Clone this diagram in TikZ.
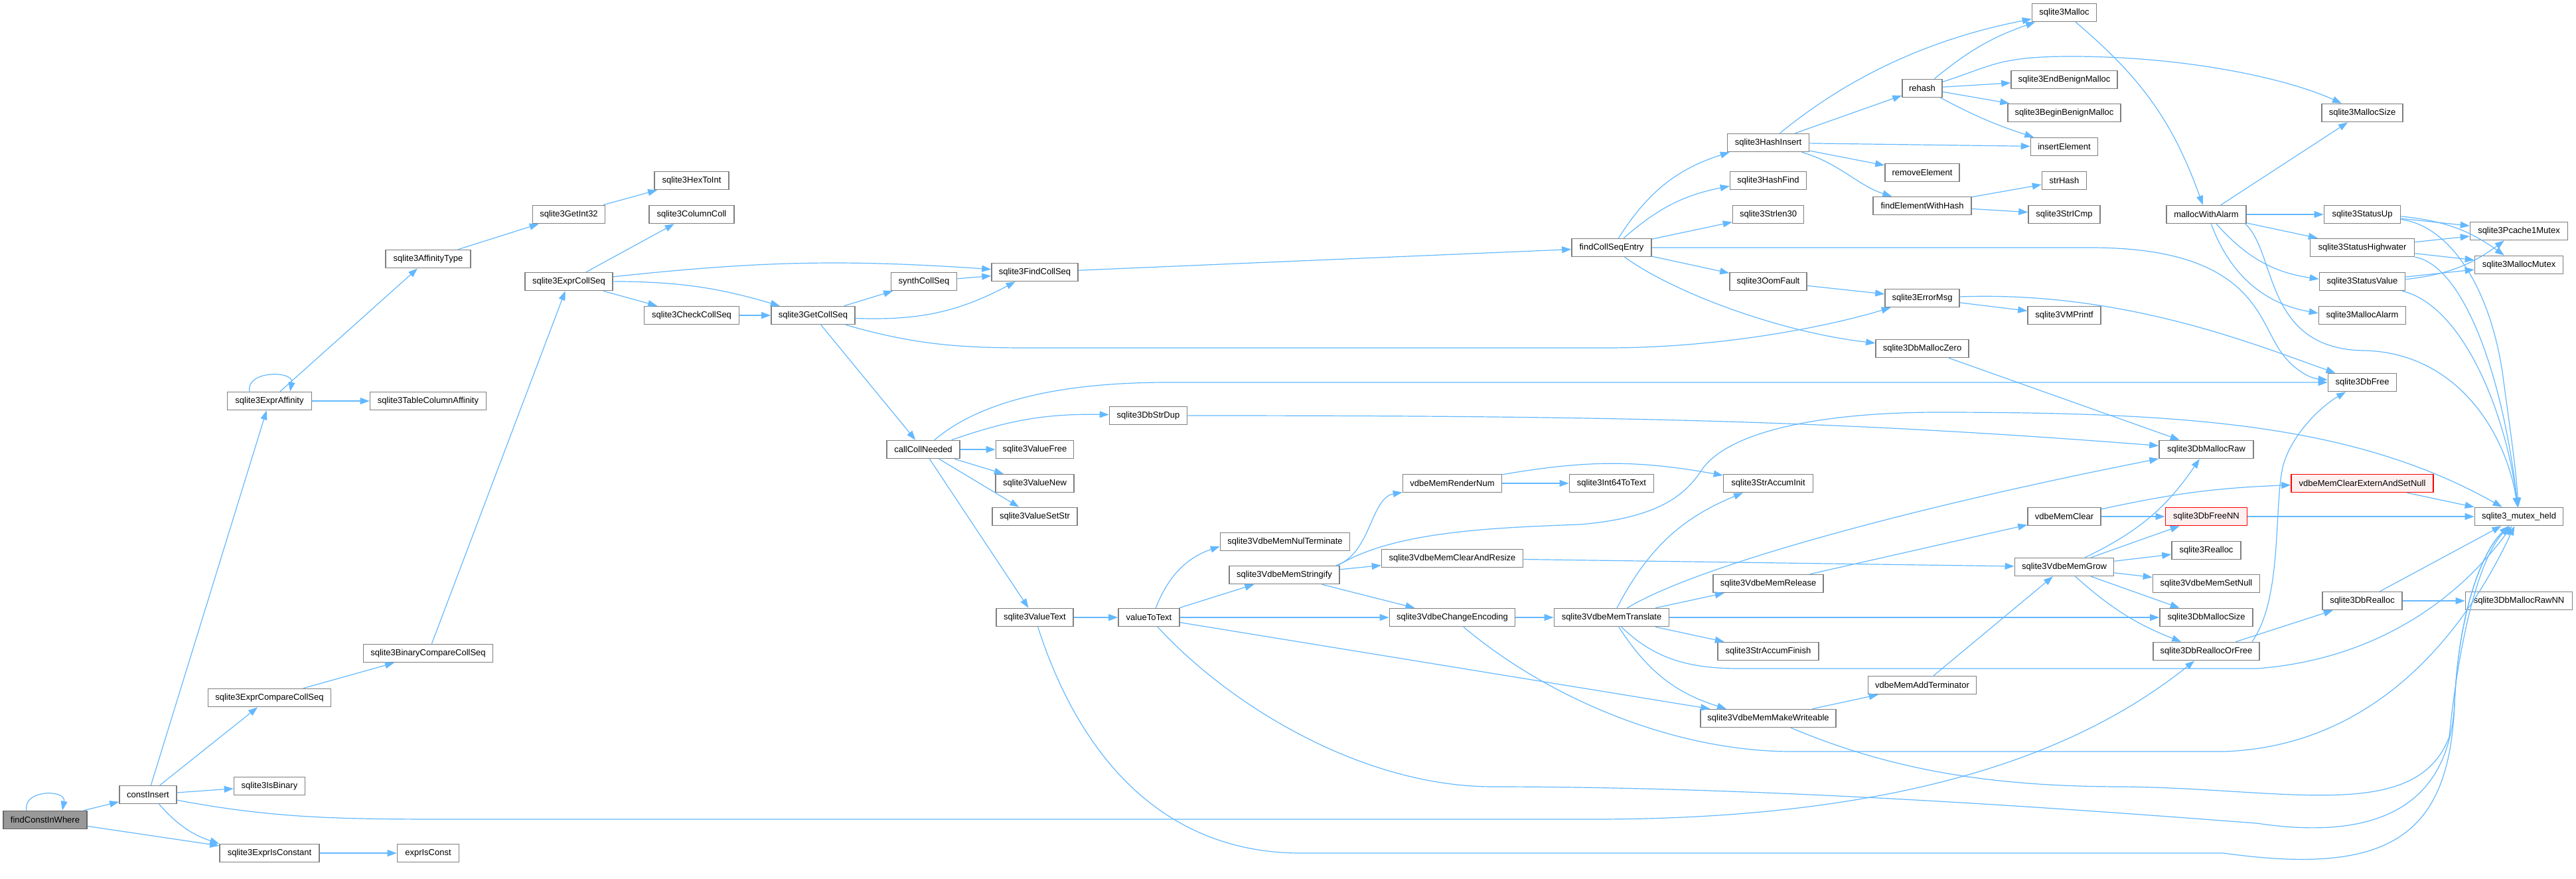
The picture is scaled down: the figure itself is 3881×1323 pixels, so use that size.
\documentclass[tikz,border=0pt]{standalone}
\usepackage{fontspec}
\setmainfont{Liberation Sans}
\usepackage{tikz}
\usetikzlibrary{arrows.meta}
\definecolor{edgeblue}{HTML}{63B8FF}
\definecolor{boxline}{HTML}{7F7F7F}
\definecolor{rootfill}{HTML}{999999}
\definecolor{redline}{HTML}{FF0000}
\definecolor{redfill}{HTML}{FFF0F0}
\tikzstyle{fn} = [rectangle, draw=boxline, line width=1.6pt, fill=white, minimum height=27pt, inner sep=0pt, font=\fontsize{13}{15}\selectfont]
\tikzstyle{rootfn} = [fn, fill=rootfill, draw=boxline!80!black]
\tikzstyle{redfn} = [fn, draw=redline, fill=redfill]
\tikzstyle{call} = [edgeblue, line width=1.2pt, -{Triangle[length=14pt,width=10pt]}]

\begin{document}
\begin{tikzpicture}[x=1pt,y=-1pt]
	\useasboundingbox (0,0) rectangle (3881,1323);
	\node (root) at (68,1235) [rootfn, minimum width=126pt] {findConstInWhere};
	\node (ci) at (223,1197) [fn, minimum width=86pt] {constInsert};
	\node (eaff) at (406,604) [fn, minimum width=127pt] {sqlite3ExprAffinity};
	\node (ecmp) at (406,1051) [fn, minimum width=185pt] {sqlite3ExprCompareCollSeq};
	\node (isbin) at (406,1184) [fn, minimum width=107pt] {sqlite3IsBinary};
	\node (eicon) at (406,1285) [fn, minimum width=150pt] {sqlite3ExprIsConstant};
	\node (afft) at (645,390) [fn, minimum width=128pt] {sqlite3AffinityType};
	\node (tca) at (645,604) [fn, minimum width=175pt] {sqlite3TableColumnAffinity};
	\node (bcmp) at (645,984) [fn, minimum width=195pt] {sqlite3BinaryCompareCollSeq};
	\node (eic) at (645,1285) [fn, minimum width=93pt] {exprIsConst};
	\node (gi32) at (857,323) [fn, minimum width=109pt] {sqlite3GetInt32};
	\node (ecs) at (857,424) [fn, minimum width=132pt] {sqlite3ExprCollSeq};
	\node (hex) at (1042,272) [fn, minimum width=112pt] {sqlite3HexToInt};
	\node (ccoll) at (1042,323) [fn, minimum width=128pt] {sqlite3ColumnColl};
	\node (chk) at (1042,475) [fn, minimum width=143pt] {sqlite3CheckCollSeq};
	\node (gcs) at (1225,475) [fn, minimum width=126pt] {sqlite3GetCollSeq};
	\node (syn) at (1392,424) [fn, minimum width=99pt] {synthCollSeq};
	\node (ccn) at (1391,677) [fn, minimum width=110pt] {callCollNeeded};
	\node (fcs) at (1559,410) [fn, minimum width=130pt] {sqlite3FindCollSeq};
	\node (vfree) at (1559,677) [fn, minimum width=117pt] {sqlite3ValueFree};
	\node (vnew) at (1559,728) [fn, minimum width=118pt] {sqlite3ValueNew};
	\node (vset) at (1559,778) [fn, minimum width=128pt] {sqlite3ValueSetStr};
	\node (vtext) at (1559,930) [fn, minimum width=116pt] {sqlite3ValueText};
	\node (sdup) at (1730,626) [fn, minimum width=117pt] {sqlite3DbStrDup};
	\node (v2t) at (1731,930) [fn, minimum width=92pt] {valueToText};
	\node (nult) at (1936,816) [fn, minimum width=195pt] {sqlite3VdbeMemNulTerminate};
	\node (strfy) at (1935,866) [fn, minimum width=166pt] {sqlite3VdbeMemStringify};
	\node (rnum) at (2188,728) [fn, minimum width=149pt] {vdbeMemRenderNum};
	\node (clrz) at (2188,841) [fn, minimum width=213pt] {sqlite3VdbeMemClearAndResize};
	\node (cenc) at (2188,930) [fn, minimum width=189pt] {sqlite3VdbeChangeEncoding};
	\node (fcse) at (2428,373) [fn, minimum width=120pt] {findCollSeqEntry};
	\node (i64) at (2428,728) [fn, minimum width=127pt] {sqlite3Int64ToText};
	\node (trans) at (2428,930) [fn, minimum width=173pt] {sqlite3VdbeMemTranslate};
	\node (hins) at (2664,215) [fn, minimum width=123pt] {sqlite3HashInsert};
	\node (hfind) at (2664,272) [fn, minimum width=115pt] {sqlite3HashFind};
	\node (slen) at (2664,323) [fn, minimum width=107pt] {sqlite3Strlen30};
	\node (oom) at (2664,424) [fn, minimum width=116pt] {sqlite3OomFault};
	\node (sainit) at (2664,728) [fn, minimum width=135pt] {sqlite3StrAccumInit};
	\node (mrel) at (2664,879) [fn, minimum width=166pt] {sqlite3VdbeMemRelease};
	\node (safin) at (2664,981) [fn, minimum width=152pt] {sqlite3StrAccumFinish};
	\node (mkw) at (2664,1082) [fn, minimum width=204pt] {sqlite3VdbeMemMakeWriteable};
	\node (rehash) at (2896,133) [fn, minimum width=60pt] {rehash};
	\node (rmel) at (2896,260) [fn, minimum width=112pt] {removeElement};
	\node (fewh) at (2896,310) [fn, minimum width=148pt] {findElementWithHash};
	\node (emsg) at (2896,449) [fn, minimum width=112pt] {sqlite3ErrorMsg};
	\node (dmz) at (2896,525) [fn, minimum width=140pt] {sqlite3DbMallocZero};
	\node (addt) at (2896,1032) [fn, minimum width=163pt] {vdbeMemAddTerminator};
	\node (mal) at (3110,19) [fn, minimum width=97pt] {sqlite3Malloc};
	\node (ebm) at (3110,120) [fn, minimum width=160pt] {sqlite3EndBenignMalloc};
	\node (bbm) at (3110,170) [fn, minimum width=170pt] {sqlite3BeginBenignMalloc};
	\node (insel) at (3110,221) [fn, minimum width=101pt] {insertElement};
	\node (shash) at (3110,272) [fn, minimum width=67pt] {strHash};
	\node (sicmp) at (3110,323) [fn, minimum width=108pt] {sqlite3StrICmp};
	\node (vmpf) at (3110,475) [fn, minimum width=110pt] {sqlite3VMPrintf};
	\node (mclr) at (3110,778) [fn, minimum width=110pt] {vdbeMemClear};
	\node (grow) at (3110,854) [fn, minimum width=149pt] {sqlite3VdbeMemGrow};
	\node (mwa) at (3324,323) [fn, minimum width=120pt] {mallocWithAlarm};
	\node (dmr) at (3324,677) [fn, minimum width=142pt] {sqlite3DbMallocRaw};
	\node (dfnn) at (3324,778) [redfn, minimum width=123pt] {sqlite3DbFreeNN};
	\node (real) at (3324,829) [fn, minimum width=104pt] {sqlite3Realloc};
	\node (snull) at (3324,879) [fn, minimum width=161pt] {sqlite3VdbeMemSetNull};
	\node (dms) at (3324,930) [fn, minimum width=140pt] {sqlite3DbMallocSize};
	\node (drof) at (3324,981) [fn, minimum width=160pt] {sqlite3DbReallocOrFree};
	\node (msize) at (3559,170) [fn, minimum width=122pt] {sqlite3MallocSize};
	\node (stup) at (3559,323) [fn, minimum width=115pt] {sqlite3StatusUp};
	\node (shw) at (3559,373) [fn, minimum width=157pt] {sqlite3StatusHighwater};
	\node (sval) at (3559,424) [fn, minimum width=129pt] {sqlite3StatusValue};
	\node (malarm) at (3559,475) [fn, minimum width=131pt] {sqlite3MallocAlarm};
	\node (dfree) at (3559,576) [fn, minimum width=103pt] {sqlite3DbFree};
	\node (mces) at (3559,728) [redfn, minimum width=214pt] {vdbeMemClearExternAndSetNull};
	\node (drea) at (3559,905) [fn, minimum width=120pt] {sqlite3DbRealloc};
	\node (pc1) at (3795,348) [fn, minimum width=147pt] {sqlite3Pcache1Mutex};
	\node (mmtx) at (3795,399) [fn, minimum width=133pt] {sqlite3MallocMutex};
	\node (mheld) at (3795,778) [fn, minimum width=133pt] {sqlite3\_mutex\_held};
	\node (drnn) at (3795,905) [fn, minimum width=161pt] {sqlite3DbMallocRawNN};

	\draw[call] ([xshift=-28pt]root.north) .. controls +(-6,-32) and +(6,-32) .. ([xshift=26pt]root.north);
	\draw[call] (root) -- (ci);
	\draw[call] (root) -- (eicon);
	\draw[call] (ci) -- (eaff);
	\draw[call] (ci) -- (ecmp);
	\draw[call] (ci) -- (isbin);
	\draw[call] (ci) to[bend right=15] (eicon);
	\draw[call] (ci) .. controls (420,1234) and (520,1234) .. (700,1234) -- (2400,1234) .. controls (2900,1234) and (3150,1120) .. (drof);
	\draw[call] ([xshift=-30pt]eaff.north) .. controls +(-6,-32) and +(6,-32) .. ([xshift=31pt]eaff.north);
	\draw[call] (eaff) -- (afft);
	\draw[call] (eaff) -- (tca);
	\draw[call] (ecmp) -- (bcmp);
	\draw[call] (eicon) -- (eic);
	\draw[call] (bcmp) -- (ecs);
	\draw[call] (afft) -- (gi32);
	\draw[call] (gi32) -- (hex);
	\draw[call] (ecs) -- (ccoll);
	\draw[call] (ecs) -- (chk);
	\draw[call] (ecs) to[bend left=5] (fcs);
	\draw[call] (ecs) to[bend left=8] (gcs);
	\draw[call] (chk) -- (gcs);
	\draw[call] (gcs) -- (syn);
	\draw[call] (gcs) to[bend right=15] (fcs);
	\draw[call] (gcs) -- (ccn);
	\draw[call] (gcs) .. controls (1380,520) and (1450,524) .. (1550,524) -- (2420,524) .. controls (2600,524) and (2760,490) .. (emsg);
	\draw[call] (syn) -- (fcs);
	\draw[call] (fcs) -- (fcse);
	\draw[call] (ccn) to[bend left=10] (sdup);
	\draw[call] (ccn) -- (vfree);
	\draw[call] (ccn) -- (vnew);
	\draw[call] (ccn) -- (vset);
	\draw[call] (ccn) -- (vtext);
	\draw[call] (ccn) .. controls (1470,610) and (1580,576) .. (1760,576) -- (dfree);
	\draw[call] (sdup) .. controls (2400,626) and (2750,632) .. (dmr);
	\draw[call] (vtext) -- (v2t);
	\draw[call] (vtext) .. controls (1630,1150) and (1760,1285) .. (1960,1285) -- (3350,1285) .. controls (3600,1320) and (3690,1260) .. (3698,1060) .. controls (3704,920) and (3740,830) .. (mheld);
	\draw[call] (v2t) to[bend left=25] (nult);
	\draw[call] (v2t) -- (strfy);
	\draw[call] (v2t) -- (cenc);
	\draw[call] (v2t) -- (mkw);
	\draw[call] (v2t) .. controls (1850,1060) and (2050,1185) .. (2250,1185) .. controls (2700,1185) and (3200,1225) .. (3400,1240) .. controls (3600,1270) and (3690,1200) .. (3698,1060) .. controls (3704,920) and (3740,830) .. (mheld);
	\draw[call] ([xshift=-6pt]strfy.north east) .. controls (2065,835) and (2065,750) .. (rnum);
	\draw[call] (strfy) -- (clrz);
	\draw[call] (strfy) -- (cenc);
	\draw[call] ([xshift=-3pt]strfy.north east) .. controls (2100,800) and (2250,795) .. (2380,790) .. controls (2500,780) and (2540,745) .. (2565,706) .. controls (2610,645) and (2760,621) .. (2920,621) .. controls (3300,621) and (3550,640) .. (mheld);
	\draw[call] (rnum) -- (i64);
	\draw[call] (rnum) to[bend left=10] (sainit);
	\draw[call] (clrz) -- (grow);
	\draw[call] (cenc) -- (trans);
	\draw[call] (cenc) .. controls (2330,1050) and (2520,1132) .. (2700,1132) -- (3350,1132) .. controls (3560,1125) and (3700,980) .. (mheld);
	\draw[call] (trans) to[bend left=20] (sainit);
	\draw[call] (trans) -- (mrel);
	\draw[call] (trans) -- (safin);
	\draw[call] (trans) to[bend right=20] (mkw);
	\draw[call] (trans) .. controls (2560,850) and (2900,760) .. (dmr);
	\draw[call] (trans) -- (dms);
	\draw[call] (trans) .. controls (2490,990) and (2540,1007) .. (2620,1007) -- (3400,1007) .. controls (3560,995) and (3690,920) .. (mheld);
	\draw[call] (mrel) -- (mclr);
	\draw[call] (mkw) -- (addt);
	\draw[call] (mkw) .. controls (2850,1160) and (3000,1185) .. (3200,1185) .. controls (3450,1188) and (3640,1240) .. (3690,1110) .. controls (3705,960) and (3735,840) .. (mheld);
	\draw[call] (addt) -- (grow);
	\draw[call] (mclr) to[bend left=5] (mces);
	\draw[call] (mclr) -- (dfnn);
	\draw[call] (grow) to[bend right=15] (dmr);
	\draw[call] (grow) -- (dfnn);
	\draw[call] (grow) -- (real);
	\draw[call] (grow) -- (snull);
	\draw[call] (grow) -- (dms);
	\draw[call] (grow) to[bend right=10] (drof);
	\draw[call] (drof) -- (drea);
	\draw[call] ([xshift=-12pt]drof.north east) .. controls (3440,900) and (3425,760) .. (3440,700) .. controls (3455,650) and (3500,610) .. (dfree);
	\draw[call] (drea) -- (mheld);
	\draw[call] (drea) -- (drnn);
	\draw[call] (dfnn) -- (mheld);
	\draw[call] (mces) -- (mheld);
	\draw[call] (dmz) -- (dmr);
	\draw[call] (fcse) to[bend left=20] (hins);
	\draw[call] (fcse) to[bend left=15] (hfind);
	\draw[call] (fcse) -- (slen);
	\draw[call] (fcse) -- (oom);
	\draw[call] (fcse) .. controls (2520,440) and (2680,500) .. (dmz);
	\draw[call] (fcse) -- (3150,373) .. controls (3380,373) and (3400,470) .. (3430,520) .. controls (3450,555) and (3480,570) .. (dfree);
	\draw[call] (hins) -- (rehash);
	\draw[call] (hins) -- (rmel);
	\draw[call] (hins) .. controls (2770,245) and (2800,280) .. (fewh);
	\draw[call] (hins) -- (insel);
	\draw[call] (hins) .. controls (2780,120) and (2900,60) .. (mal);
	\draw[call] (rehash) to[bend left=10] (mal);
	\draw[call] (rehash) -- (ebm);
	\draw[call] (rehash) -- (bbm);
	\draw[call] (rehash) to[bend right=5] (insel);
	\draw[call] (rehash) .. controls (3000,100) and (3010,85) .. (3120,85) .. controls (3300,85) and (3450,120) .. (msize);
	\draw[call] (fewh) -- (shash);
	\draw[call] (fewh) -- (sicmp);
	\draw[call] (oom) -- (emsg);
	\draw[call] (emsg) -- (vmpf);
	\draw[call] (emsg) .. controls (3200,438) and (3400,520) .. (dfree);
	\draw[call] (mal) to[bend left=15] (mwa);
	\draw[call] (mwa) -- (msize);
	\draw[call] (mwa) -- (stup);
	\draw[call] (mwa) -- (shw);
	\draw[call] (mwa) to[bend right=20] (sval);
	\draw[call] (mwa) to[bend right=30] (malarm);
	\draw[call] ([xshift=-2pt]mwa.south east) .. controls (3430,380) and (3410,525) .. (3560,528) .. controls (3700,530) and (3775,650) .. (mheld);
	\draw[call] (stup) -- (pc1);
	\draw[call] (stup) to[bend left=15] (mmtx);
	\draw[call] (stup) .. controls (3690,340) and (3750,430) .. (3770,560) .. controls (3782,650) and (3790,700) .. (mheld);
	\draw[call] (shw) -- (pc1);
	\draw[call] (shw) -- (mmtx);
	\draw[call] (shw) .. controls (3710,400) and (3770,560) .. (mheld);
	\draw[call] (sval) to[bend right=15] (pc1);
	\draw[call] (sval) -- (mmtx);
	\draw[call] (sval) .. controls (3710,460) and (3775,620) .. (mheld);
\end{tikzpicture}
\end{document}
